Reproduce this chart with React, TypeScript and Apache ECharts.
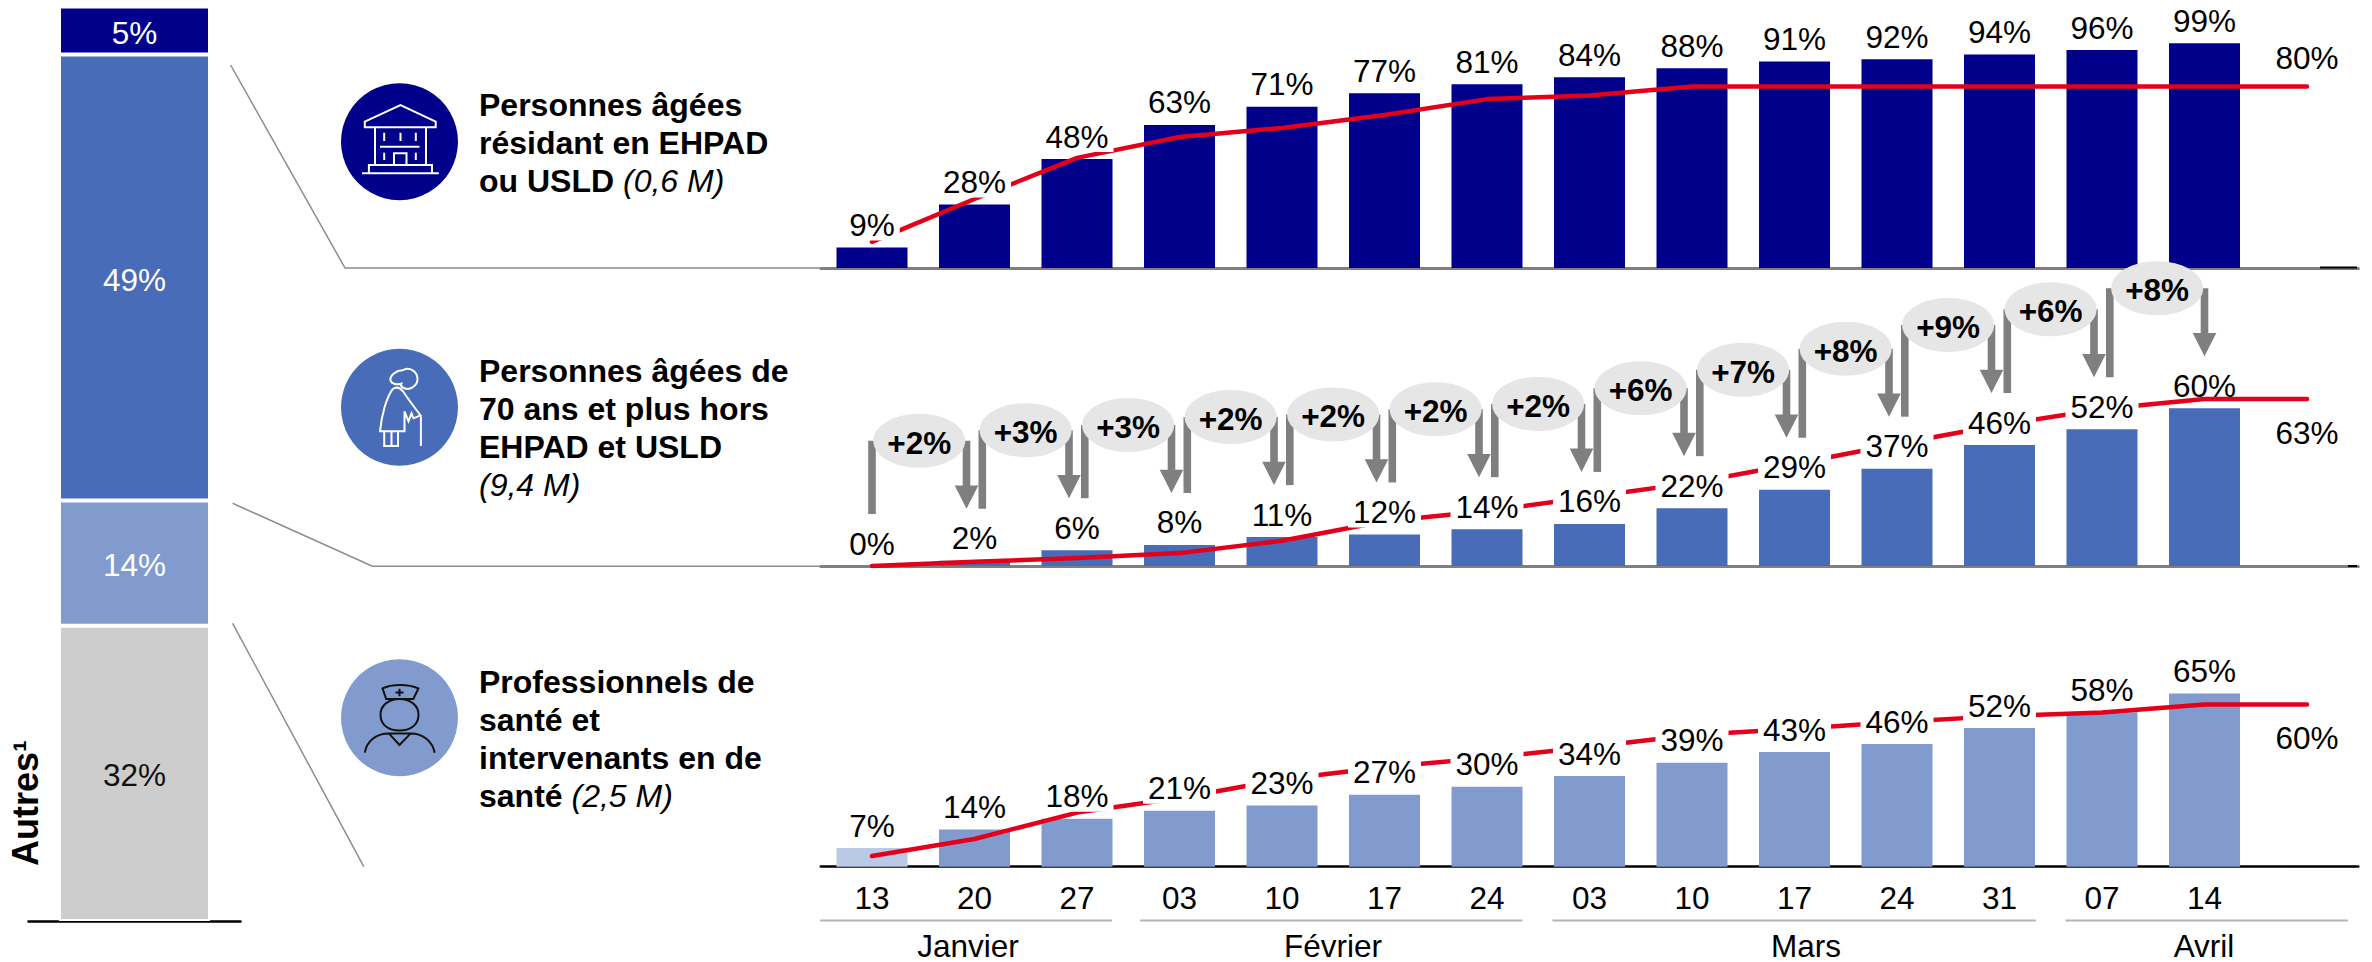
import React, { useEffect, useRef } from "react";
import * as echarts from "echarts";

const days = ["13", "20", "27", "03", "10", "17", "24", "03", "10", "17", "24", "31", "07", "14", ""];
const months = ["Janvier", "Février", "Mars", "Avril"];

const shareNames = ["Autres", "Professionnels", "70 ans et plus", "EHPAD"];
const shareValues = [32.3, 13.7, 48.8, 5.25];

const ehpadValues = [9, 28, 48, 63, 71, 77, 81, 84, 88, 91, 92, 94, 96, 99];
const ehpadTarget = [11.5, 30.4, 48.5, 57.7, 61.7, 67.4, 74.4, 76, 80, 80, 80, 80, 80, 80, 80];
const seniorValues = [0, 2, 6, 8, 11, 12, 14, 16, 22, 29, 37, 46, 52, 60];
const seniorTarget = [0, 1.6, 3, 4.9, 9.6, 17, 20.9, 26.2, 31.6, 38.8, 46.4, 53.6, 59.7, 63.5, 63.5];
const seniorDeltas = ["+2%", "+3%", "+3%", "+2%", "+2%", "+2%", "+2%", "+6%", "+7%", "+8%", "+9%", "+6%", "+8%"];
const healthValues = [7, 14, 18, 21, 23, 27, 30, 34, 39, 43, 46, 52, 58, 65];
const healthTarget = [4, 10.4, 20.3, 25.8, 32.7, 37.4, 40.8, 44.9, 49.4, 51.7, 54.3, 56.5, 57.9, 60.9, 60.9];
const targetLabels = ["80%", "63%", "60%"];

const groupTitles = [
  "{b|Personnes âgées}\n{b|résidant en EHPAD}\n{b|ou USLD }{i|(0,6 M)}",
  "{b|Personnes âgées de}\n{b|70 ans et plus hors}\n{b|EHPAD et USLD}\n{i|(9,4 M)}",
  "{b|Professionnels de}\n{b|santé et}\n{b|intervenants en de}\n{b|santé }{i|(2,5 M)}",
];

const FONT = '"Liberation Sans", Arial, sans-serif';
const NAVY = "#00008B";
const BLUE = "#486CB7";
const LIGHT = "#829BCF";
const PALE = "#BAC9E6";
const GREY = "#CDCDCD";
const RED = "#E3001B";
const ARROW = "#7F7F7F";
const BUBBLE = "#E6E6E6";
const NUM_SIZE = 31.5;

const BUILDING =
  "M-34.7 -14.4 L-34.7 -20 L1 -36.7 L36.2 -20 L36.2 -14.4 Z " +
  "M-24.5 -14.4 L-24.5 23.3 M26.5 -14.4 L26.5 23.3 " +
  "M-30.6 31.6 L-30.6 23.3 L32.5 23.3 L32.5 31.6 M-37.5 31.6 L39.3 31.6 " +
  "M-15.3 -9 L-15.3 -0.7 M1 -9 L1 -0.7 M16.3 -9 L16.3 -0.7 M-19.5 5 L20 5 " +
  "M-15.3 11 L-15.3 18.3 M16.3 11 L16.3 18.3 M-5.5 23.3 L-5.5 11.6 L7 11.6 L7 23.3";
const SENIOR =
  "M3 -37 C10 -41 18 -36 18 -28 C18 -21 10 -17 5 -19 C1 -20 0 -24 3 -24 " +
  "M3 -37 C-3 -37 -10 -32 -9 -27 C-8 -23 -2 -22 3 -24 " +
  "M-7 -18 C-13 -10 -18 8 -19.5 24 L5 24 L5 4 " +
  "M-7 -18 C-3 -21 1 -19 3.5 -16 C10 -6 15 0 21 8 L14 11 L12 6 L9 14 L5 4 " +
  "M21.4 9 L21.4 38.7 M-15.3 24 L-15.3 38.7 L-1.5 38.7 L-1.5 24 M-8 24 L-8 38.7";
const NURSE =
  "M-17 -29.3 C-8 -34 9 -34 18.9 -29.3 L13.8 -18.7 L-13.3 -18.7 Z M0 -29 L0 -21.5 M-4 -25.3 L4 -25.3 " +
  "M-19 -3 C-19 -13 -10 -18.7 0 -18.7 C10 -18.7 19 -13 19 -3 C19 8 10 12.8 0 12.8 C-10 12.8 -19 8 -19 -3 Z " +
  "M-34.7 35 C-33 24 -24 15.7 -10.7 15.7 L0 27.3 L11.2 15.7 C24 15.7 33 24 35.2 35 M-10.7 15.7 L11.2 15.7";
echarts.graphic.registerShape("iconBuilding", echarts.graphic.extendPath(BUILDING, {}));
echarts.graphic.registerShape("iconSenior", echarts.graphic.extendPath(SENIOR, {}));
echarts.graphic.registerShape("iconNurse", echarts.graphic.extendPath(NURSE, {}));

const GRID_LEFT = 820.75;
const GRID_WIDTH = 1537.5;
const panels = [
  { top: 41, height: 227 },
  { top: 303, height: 263 },
  { top: 600.2, height: 266.5 },
];

function labelSeries(panel: number, values: number[], targetPos: string, targetDist: number): any[] {
  return [
    {
      type: "scatter",
      xAxisIndex: panel,
      yAxisIndex: panel,
      z: 5,
      symbolSize: 0,
      silent: true,
      itemStyle: { opacity: 1 },
      data: values.map((v, i) =>
        panel === 1 && i === values.length - 1
          ? { value: [i, v], label: { backgroundColor: "transparent" } }
          : [i, v]
      ),
      label: {
        show: true,
        position: "top",
        distance: 7,
        formatter: (p: any) => `${p.value[1]}%`,
        color: "#000",
        fontFamily: FONT,
        fontSize: NUM_SIZE,
        lineHeight: 31,
        backgroundColor: "#fff",
        padding: [0, 5],
      },
    },
    {
      type: "scatter",
      xAxisIndex: panel,
      yAxisIndex: panel,
      z: 5,
      symbolSize: 0,
      silent: true,
      itemStyle: { opacity: 1 },
      data: [[14, [ehpadTarget, seniorTarget, healthTarget][panel][14]]],
      label: {
        show: true,
        position: targetPos,
        distance: targetDist,
        formatter: targetLabels[panel],
        color: "#000",
        fontFamily: FONT,
        fontSize: NUM_SIZE,
        lineHeight: 31,
      },
    },
  ];
}

function panelSeries(panel: number, values: number[], target: number[], color: string): any[] {
  return [
    {
      type: "bar",
      xAxisIndex: panel,
      yAxisIndex: panel,
      z: 2,
      barWidth: 71,
      itemStyle: { color },
      data: values.map((v, i) =>
        panel === 2 && i === 0 ? { value: v, itemStyle: { color: PALE } } : v
      ),
    },
    {
      type: "line",
      xAxisIndex: panel,
      yAxisIndex: panel,
      z: 3,
      symbol: "none",
      lineStyle: { color: RED, width: 4.5, cap: "round", join: "round" },
      data: target,
    },
  ];
}

function renderBracket(params: any, api: any) {
  const i = api.value(0);
  const fromV = api.value(1);
  const toV = api.value(2);
  const last = seniorDeltas.length - 1;
  const from = api.coord([i, fromV]);
  const to = api.coord([i + 1, toV]);
  const stemX = from[0] + (i === 0 ? 0 : 7.8);
  const arrowX = to[0] - (i === last ? 0 : 8);
  const top = to[1] - 120;
  const stemBottom = from[1] - 52;
  const tip = to[1] - 52;
  const w = 7.6;
  const cx = (stemX + arrowX) / 2;
  return {
    type: "group",
    children: [
      { type: "rect", shape: { x: stemX - w / 2, y: top, width: w, height: stemBottom - top }, style: { fill: ARROW } },
      {
        type: "polygon",
        shape: {
          points: [
            [arrowX - w / 2, top],
            [arrowX + w / 2, top],
            [arrowX + w / 2, tip - 23.3],
            [arrowX + 11.8, tip - 23.3],
            [arrowX, tip],
            [arrowX - 11.8, tip - 23.3],
            [arrowX - w / 2, tip - 23.3],
          ],
        },
        style: { fill: ARROW },
      },
      { type: "ellipse", shape: { cx, cy: top, rx: 46, ry: 27 }, style: { fill: BUBBLE } },
      {
        type: "text",
        style: {
          x: cx,
          y: top + 2,
          text: seniorDeltas[i],
          fill: "#000",
          font: `bold ${NUM_SIZE}px ${FONT}`,
          align: "center",
          verticalAlign: "middle",
        },
      },
    ],
  };
}

function line(x1: number, y1: number, x2: number, y2: number, stroke: string, lineWidth: number) {
  return { type: "line", shape: { x1, y1, x2, y2 }, style: { stroke, lineWidth }, z: 1 };
}

function buildOption(): any {
  const richStyle = {
    b: { fontFamily: FONT, fontSize: 32, fontWeight: "bold", lineHeight: 38, fill: "#000", color: "#000" },
    i: { fontFamily: FONT, fontSize: 32, fontStyle: "italic", lineHeight: 38, fill: "#000", color: "#000" },
  };
  const circles = [
    { y: 141.7, color: NAVY, icon: "iconBuilding", stroke: "#fff", textY: 143 },
    { y: 407.3, color: BLUE, icon: "iconSenior", stroke: "#fff", textY: 428 },
    { y: 717.7, color: LIGHT, icon: "iconNurse", stroke: "#111", textY: 738.5 },
  ];
  const graphic: any[] = [
    { type: "polyline", shape: { points: [[230.6, 65], [345, 268], [822, 268]] }, style: { stroke: "#8C8C8C", lineWidth: 1.5, fill: null }, z: 1 },
    { type: "polyline", shape: { points: [[232.6, 503.3], [372.4, 566.3], [822, 566.3]] }, style: { stroke: "#8C8C8C", lineWidth: 1.5, fill: null }, z: 1 },
    { type: "polyline", shape: { points: [[232.6, 623.3], [363.8, 866.7]] }, style: { stroke: "#8C8C8C", lineWidth: 1.5, fill: null }, z: 1 },
    line(2320, 267.5, 2357, 267.5, "#000", 2),
    line(2348, 566, 2357, 566, "#000", 2),
    line(820, 920.5, 1112, 920.5, "#B5B5B5", 2),
    line(1140, 920.5, 1522.5, 920.5, "#B5B5B5", 2),
    line(1552.5, 920.5, 2036, 920.5, "#B5B5B5", 2),
    line(2065.5, 920.5, 2348, 920.5, "#B5B5B5", 2),
    {
      type: "text",
      x: 25,
      y: 803,
      rotation: Math.PI / 2,
      style: { text: "Autres¹", font: `bold 36px ${FONT}`, fill: "#000", align: "center", verticalAlign: "middle" },
    },
  ];
  [968, 1333, 1806, 2204].forEach((x, k) => {
    graphic.push({
      type: "text",
      x,
      y: 945.5,
      style: { text: months[k], font: `31.5px ${FONT}`, fill: "#000", align: "center", verticalAlign: "middle" },
    });
  });
  circles.forEach((c, k) => {
    graphic.push({ type: "circle", shape: { cx: 399.5, cy: c.y, r: 58.5 }, style: { fill: c.color } });
    graphic.push({
      type: c.icon,
      x: 399.5,
      y: c.y,
      style: { fill: "none", stroke: c.stroke, lineWidth: 2 },
    });
    graphic.push({
      type: "text",
      x: 479,
      y: c.textY,
      style: { text: groupTitles[k], rich: richStyle, fill: "#000", align: "left", verticalAlign: "middle" },
    });
  });

  const panelAxes = panels.map((_, k) => ({
    type: "category",
    gridIndex: k,
    data: days,
    axisTick: { show: false },
    axisLine: { lineStyle: { color: k === 2 ? "#000" : ARROW, width: k === 2 ? 2.5 : 3 } },
    axisLabel:
      k === 2
        ? { show: true, color: "#000", fontFamily: FONT, fontSize: NUM_SIZE, margin: 15, interval: 0 }
        : { show: false },
    splitLine: { show: false },
  }));
  const valueAxes = panels.map((_, k) => ({
    type: "value",
    gridIndex: k,
    min: 0,
    max: 100,
    show: false,
    splitLine: { show: false },
  }));

  const shareColors = [GREY, LIGHT, BLUE, NAVY];
  const shareSeries = shareValues.map((v, k) => ({
    type: "bar",
    name: shareNames[k],
    stack: "share",
    xAxisIndex: 3,
    yAxisIndex: 3,
    barWidth: 151,
    data: [v],
    itemStyle: { color: shareColors[k], borderColor: "#fff", borderWidth: 2 },
    label: {
      show: true,
      position: "inside",
      offset: [0, 2],
      formatter: (p: any) => `${Math.round(p.value)}%`,
      color: k === 0 ? "#111" : "#fff",
      fontFamily: FONT,
      fontSize: NUM_SIZE,
    },
  }));

  return {
    animation: false,
    backgroundColor: "#fff",
    graphic,
    grid: [
      ...panels.map((p) => ({ left: GRID_LEFT, width: GRID_WIDTH, top: p.top, height: p.height })),
      { left: 28.5, width: 212, top: 7, height: 914 },
    ],
    xAxis: [
      ...panelAxes,
      {
        type: "category",
        gridIndex: 3,
        data: ["Total"],
        axisTick: { show: false },
        axisLabel: { show: false },
        axisLine: { lineStyle: { color: "#000", width: 2.5 } },
      },
    ],
    yAxis: [
      ...valueAxes,
      { type: "value", gridIndex: 3, min: 0, max: 100, show: false, splitLine: { show: false } },
    ],
    series: [
      ...shareSeries,
      ...panelSeries(0, ehpadValues, ehpadTarget, NAVY),
      ...panelSeries(1, seniorValues, seniorTarget, BLUE),
      ...panelSeries(2, healthValues, healthTarget, LIGHT),
      ...labelSeries(0, ehpadValues, "top", 12.5),
      ...labelSeries(1, seniorValues, "bottom", 18.5),
      ...labelSeries(2, healthValues, "bottom", 18.5),
      {
        type: "custom",
        xAxisIndex: 1,
        yAxisIndex: 1,
        z: 10,
        silent: true,
        renderItem: renderBracket,
        data: seniorDeltas.map((_, i) => [i, seniorValues[i], seniorValues[i + 1]]),
      },
    ],
  };
}

export default function App() {
  const ref = useRef<HTMLDivElement>(null);
  useEffect(() => {
    if (!ref.current) return;
    const chart = echarts.init(ref.current, undefined, { renderer: "svg" });
    chart.setOption(buildOption());
    return () => chart.dispose();
  }, []);
  return <div ref={ref} style={{ position: "absolute", left: 0, top: 0, width: 2372, height: 962 }} />;
}
